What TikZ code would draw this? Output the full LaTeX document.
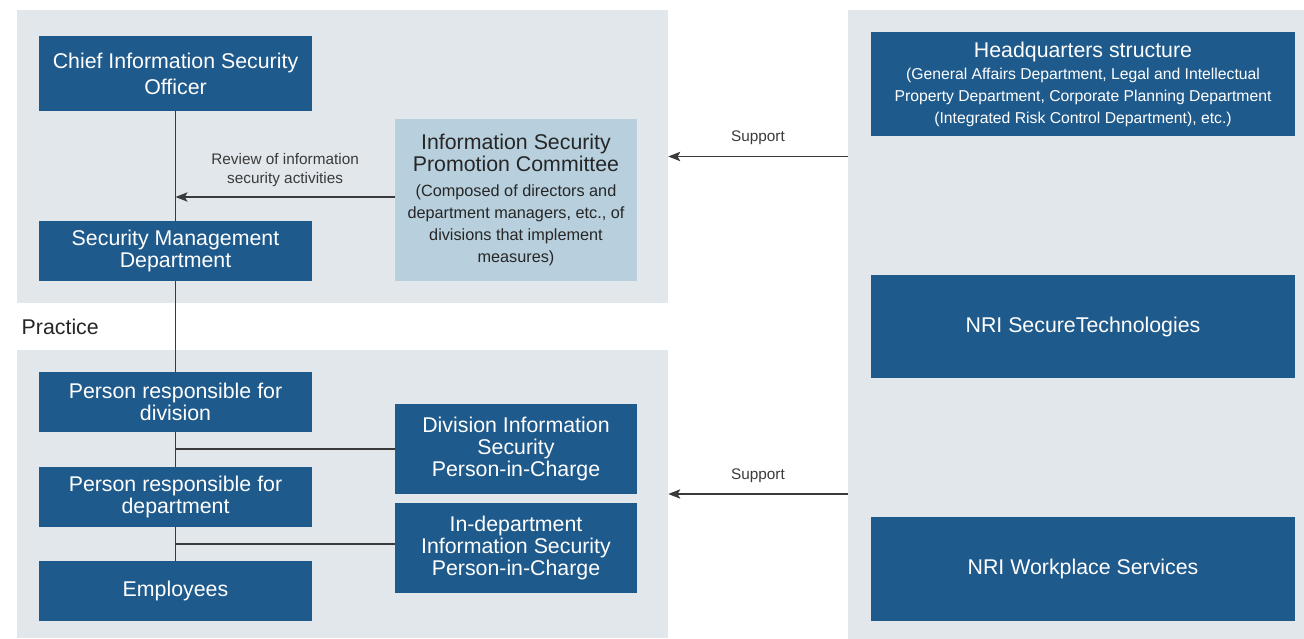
\documentclass[tikz,border=0pt]{standalone}
\usepackage{fontspec}
\setmainfont{Liberation Sans}
\usetikzlibrary{arrows.meta}
\definecolor{boxblue}{HTML}{1F5A8C}
\definecolor{panelgray}{HTML}{E2E7EC}
\definecolor{paleblue}{HTML}{B8D0DD}
\definecolor{labelgray}{HTML}{3A3A3A}
\newcommand{\cmtsmall}{\fontsize{12.2}{15.8}\selectfont}
\newcommand{\hqsmall}{\fontsize{11.8}{16.1}\selectfont}
\begin{document}
\begin{tikzpicture}[x=0.75pt,y=-0.75pt,>={Stealth[length=9pt,width=7pt,inset=2pt]},
  panel/.style={fill=panelgray,inner sep=0pt},
  unit/.style={fill=boxblue,text=white,align=center,inner sep=0pt,minimum width=205pt,minimum height=45pt,font=\fontsize{16}{16.5}\selectfont},
  inchargebox/.style={fill=boxblue,text=white,align=center,inner sep=0pt,minimum width=181.5pt,minimum height=67.5pt,font=\fontsize{16}{16.5}\selectfont},
  group/.style={fill=boxblue,text=white,align=center,inner sep=0pt,minimum width=318pt,minimum height=77.5pt,font=\fontsize{16}{16.5}\selectfont},
  note/.style={text=labelgray,align=center,font=\fontsize{11.5}{14.3}\selectfont},
  link/.style={draw=labelgray,line width=1pt}]
\useasboundingbox (0,0) rectangle (1304,639);
% background panels
\node[panel,minimum width=488.25pt,minimum height=219.75pt] (tpanel) at (342.5,156.5) {};
\node[panel,minimum width=488.25pt,minimum height=216pt] (bpanel) at (342.5,494) {};
\node[panel,minimum width=342pt,minimum height=471.75pt] (rpanel) at (1076,324.5) {};
% management
\node[unit,minimum height=56.25pt,font=\fontsize{16}{19.5}\selectfont] (ciso) at (175.5,73.5) {Chief Information Security\\Officer};
\node[unit] (smd) at (175.5,251) {Security Management\\Department};
\node[inchargebox,fill=paleblue,text=black!85,minimum height=121.5pt] (ispc) at (516,200)
  {Information Security\\Promotion Committee\\[2pt]\cmtsmall(Composed of directors and\\\cmtsmall department managers, etc., of\\\cmtsmall divisions that implement\\\cmtsmall measures)};
\node[anchor=west,font=\fontsize{16}{16.5}\selectfont,text=black!85] (practice) at (17,327) {Practice};
% practice
\node[unit] (pdiv) at (175.5,402) {Person responsible for\\division};
\node[unit] (pdept) at (175.5,497) {Person responsible for\\department};
\node[unit] (emp) at (175.5,591) {Employees};
\node[inchargebox] (dispic) at (516,449) {Division Information\\Security\\Person-in-Charge};
\node[inchargebox] (indept) at (516,548) {In-department\\Information Security\\Person-in-Charge};
% support side
\node[group] (hq) at (1083,84) {Headquarters structure\\\hqsmall(General Affairs Department, Legal and Intellectual\\\hqsmall Property Department, Corporate Planning Department\\\hqsmall(Integrated Risk Control Department), etc.)};
\node[group] (nrist) at (1083,326.5) {NRI SecureTechnologies};
\node[group] (nriws) at (1083,569) {NRI Workplace Services};
% connectors
\draw[link] (ciso) -- (smd);
\draw[link] (smd) -- (pdiv);
\draw[link] (pdiv) -- (pdept);
\draw[link] (pdept) -- (emp);
\draw[link,->] (ispc.west |- 0,197) -- (ciso.south |- 0,197) node[midway,above=4pt,note] (review) {Review of information\\security activities};
\draw[link] (dispic.west) -- (dispic.west -| pdiv.south);
\draw[link] (indept.west |- 0,544) -- (pdept.south |- 0,544);
\draw[link,->] (rpanel.west |- tpanel.east) -- (tpanel.east) node[midway,above=5pt,note] (sup1) {Support};
\draw[link,->] (rpanel.west |- bpanel.east) -- (bpanel.east) node[midway,above=5pt,note] (sup2) {Support};
\end{tikzpicture}
\end{document}
